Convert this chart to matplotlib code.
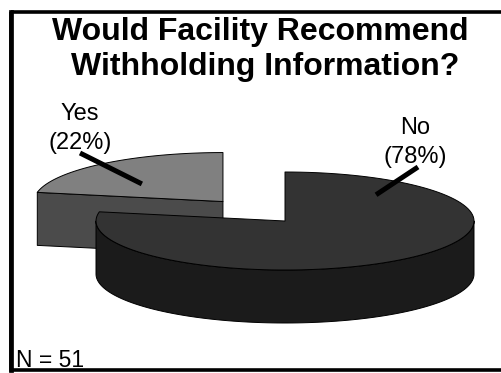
import numpy as np
import matplotlib
matplotlib.use('Agg')
import matplotlib.pyplot as plt
from matplotlib.patches import Polygon, Rectangle

# ---------------------------------------------------------------------------
# data
# ---------------------------------------------------------------------------
labels = ['Yes', 'No']
shares = [22, 78]
n_total = 51
title_lines = ['Would Facility Recommend', 'Withholding Information?']

# ---------------------------------------------------------------------------
# style / layout (pixel units, y pointing down)
# ---------------------------------------------------------------------------
W, H = 501, 373
FONT = 'Liberation Sans'
top_colors = ['#808080', '#333333']
side_colors = ['#4b4b4b', '#1b1b1b']
explode = [0.515, 0.0]

CX, CY = 285.0, 221.0      # pie centre (top face)
RX, RY = 189.0, 49.0       # ellipse semi-axes
DEPTH = 53.0               # thickness of the disc
START = 90.0               # first slice starts at 12 o'clock

plt.rcParams['font.family'] = FONT

fig = plt.figure(figsize=(W / 100, H / 100), dpi=100)
ax = fig.add_axes([0, 0, 1, 1])
ax.set_xlim(0, W)
ax.set_ylim(H, 0)
ax.axis('off')


def ell(deg, ox, oy, r=1.0):
    t = np.radians(deg)
    return ox + RX * r * np.cos(t), oy - RY * r * np.sin(t)


def arc(t0, t1, ox, oy, n=120):
    ts = np.linspace(t0, t1, n)
    xs, ys = ell(ts, ox, oy)
    return np.column_stack([xs, ys])


# slice angles from the shares
total = float(sum(shares))
bounds = [START]
for s in shares:
    bounds.append(bounds[-1] + 360.0 * s / total)

slices = []
for i, (t0, t1) in enumerate(zip(bounds[:-1], bounds[1:])):
    mid = 0.5 * (t0 + t1)
    ox = CX + explode[i] * RX * np.cos(np.radians(mid))
    oy = CY - explode[i] * RY * np.sin(np.radians(mid))
    slices.append((t0, t1, ox, oy))

# back slices first (smaller y = further away)
order = sorted(range(len(slices)), key=lambda k: slices[k][3])
edge = dict(edgecolor='black', linewidth=0.7, joinstyle='round')

for i in order:
    t0, t1, ox, oy = slices[i]
    # radial faces turned towards the viewer
    for ang, sgn in ((t0, -1), (t1, 1)):
        normal = np.radians(ang + sgn * 90)
        if np.sin(normal) < -1e-6:
            px, py = ell(ang, ox, oy)
            face = [(ox, oy), (px, py), (px, py + DEPTH), (ox, oy + DEPTH)]
            ax.add_patch(Polygon(face, closed=True, facecolor=side_colors[i], **edge))
    # outer wall where it faces the front (180..360 deg)
    for k in range(-1, 2):
        a0 = max(t0, 180 + 360 * k)
        a1 = min(t1, 360 + 360 * k)
        if a1 > a0:
            top = arc(a0, a1, ox, oy)
            bot = top[::-1] + np.array([0, DEPTH])
            ax.add_patch(Polygon(np.vstack([top, bot]), closed=True,
                                 facecolor=side_colors[i], **edge))
    # top surface
    pts = np.vstack([[ox, oy], arc(t0, t1, ox, oy)])
    ax.add_patch(Polygon(pts, closed=True, facecolor=top_colors[i], **edge))

# labels with leader lines
label_pos = [(80, 120), (415, 134)]
leader_angle = [140.0, 48.0]
leader_r = [0.56, 0.72]
leader_start = [(80, 153), (418, 167)]
for i, lab in enumerate(labels):
    t0, t1, ox, oy = slices[i]
    lx, ly = label_pos[i]
    ax.text(lx, ly, lab, ha='center', va='baseline', fontsize=17)
    ax.text(lx, ly + 29, f'({shares[i] / total * 100:.0f}%)', ha='center',
            va='baseline', fontsize=17)
    ex, ey = ell(leader_angle[i], ox, oy, leader_r[i])
    sx, sy = leader_start[i]
    ax.plot([sx, ex], [sy, ey], color='black', lw=3.6, solid_capstyle='butt')

# title
ax.text(260, 40, title_lines[0], ha='center', va='baseline',
        fontsize=23, fontweight='bold')
ax.text(265, 75, title_lines[1], ha='center', va='baseline',
        fontsize=23, fontweight='bold')

ax.text(16, 367, f'N = {n_total}', ha='left', va='baseline', fontsize=16.5)

# frame
ax.add_patch(Rectangle((11, 12), W, 358, fill=False, edgecolor='black',
                       linewidth=2.6))
ax.plot([11, 11], [12, 370], color='black', lw=3.4)

fig.savefig('out.png', dpi=100)
